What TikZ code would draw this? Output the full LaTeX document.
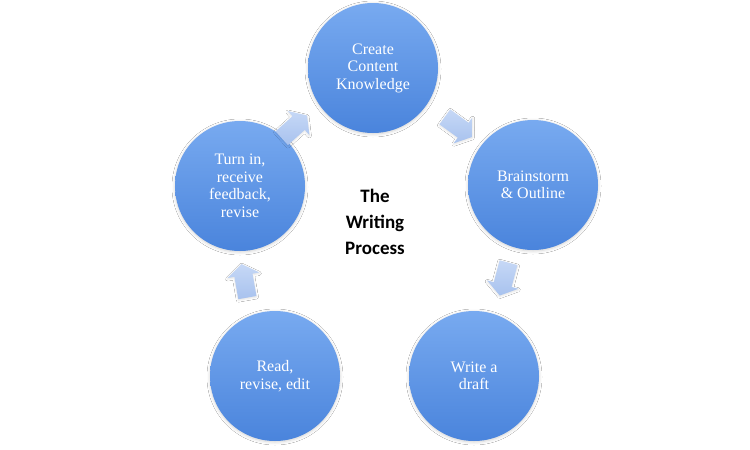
\documentclass[tikz,border=0pt]{standalone}
\usepackage{fontspec}
\setmainfont{Liberation Serif}
\newfontfamily\titlefont{Carlito}
\usetikzlibrary{shapes.arrows,shadows.blur}
\definecolor{circtop}{HTML}{78AAF0}
\definecolor{circbot}{HTML}{4A84DC}
\definecolor{arrtop}{HTML}{C6D8F6}
\definecolor{arrbot}{HTML}{A8C2EE}
\tikzset{
  stage/.style={circle, minimum size=130pt, inner sep=0pt,
    top color=circtop, bottom color=circbot, draw=none,
    blur shadow={shadow xshift=0pt, shadow yshift=-1pt, shadow blur radius=3pt, shadow blur steps=6, shadow opacity=18},
    text=white, align=center,
    font=\fontsize{16}{17.5}\selectfont},
  flowarrow/.style={single arrow, minimum height=34pt,
    single arrow head extend=7pt, single arrow tip angle=110,
    inner sep=0pt, draw=none, top color=arrtop, bottom color=arrbot,
    blur shadow={shadow xshift=0pt, shadow yshift=-1pt, shadow blur radius=2pt, shadow blur steps=4, shadow opacity=12}},
  titletext/.style={align=center, font=\titlefont\bfseries\fontsize{19}{26}\selectfont}
}
\newcommand{\shaft}{\rule{0pt}{18pt}}
\begin{document}
\begin{tikzpicture}[x=1pt,y=-1pt]
  \useasboundingbox[fill=white] (0,0) rectangle (750,450);
  \node[stage] (create) at (373,68) {Create\\Content\\Knowledge};
  \node[stage] (brain) at (533,185) {Brainstorm\\\& Outline};
  \node[stage] (write) at (474,376) {Write a\\draft};
  \node[stage] (read) at (275,376) {Read,\\revise, edit};
  \node[stage] (turn) at (240,186) {Turn in,\\receive\\feedback,\\revise};
  \node[titletext] (title) at (375,222) {The\\Writing\\Process};
  \node[flowarrow, rotate=42] (a1) at (292,129) {\shaft};
  \node[flowarrow, rotate=-36] (a2) at (456,125) {\shaft};
  \node[flowarrow, rotate=-105] (a3) at (505,276) {\shaft};
  \node[flowarrow, rotate=100] (a4) at (245,284) {\shaft};
\end{tikzpicture}
\end{document}
